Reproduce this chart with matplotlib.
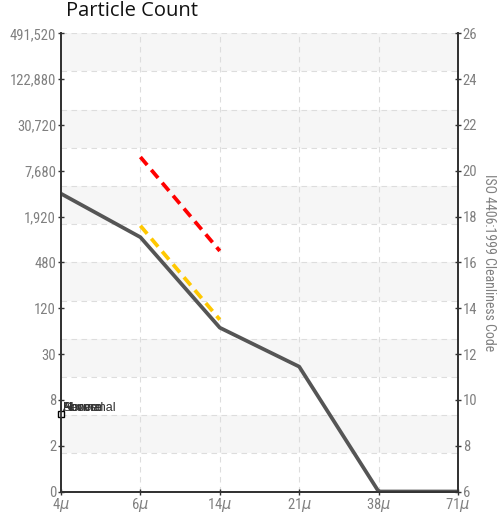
import numpy as np
import matplotlib
matplotlib.use('Agg')
import matplotlib.pyplot as plt

# particle sizes (x categories)
sizes = ['4', '6', '14', '21', '38', '71']
# measured ISO codes per size
iso_codes = [19.0, 17.1, 13.15, 11.45, 6.0, 6.0]
# limit lines between 6u and 14u
severe_limit = [20.6, 16.5]
alarm_limit = [17.6, 13.5]
limit_sizes = ['6', '14']
# left axis labels (particles per ml) for ISO codes 6..26
count_labels = ['0', '2', '8', '30', '120', '480', '1,920', '7,680', '30,720', '122,880', '491,520']
iso_ticks = [6, 8, 10, 12, 14, 16, 18, 20, 22, 24, 26]
legend_names = ['Above', 'Severe', 'Normal', 'Abnormal']

narrow = 'Roboto Condensed'

fig = plt.figure(figsize=(4.99, 5.15), dpi=100)
ax = fig.add_axes([61/499, 1-491.5/515, (458-61)/499, (491.5-33.3)/515])

xpos = np.arange(len(sizes))
lookup = dict(zip(sizes, xpos))

ymin, ymax = 6, 26
ax.set_xlim(xpos[0], xpos[-1])
ax.set_ylim(ymin, ymax)

# alternating bands / horizontal grid (12 divisions)
edges = np.linspace(ymin, ymax, 13)
for i in range(12):
    if i % 2 == 1:
        ax.axhspan(edges[i], edges[i+1], color='#f6f6f6', zorder=0, lw=0)
for e in edges[1:]:
    ax.axhline(e, color='#dddddd', lw=0.8, ls=(0, (5, 4)), zorder=1)
for x in xpos[1:-1]:
    ax.axvline(x, color='#dddddd', lw=0.8, ls=(0, (5, 4)), zorder=1)

ax.plot(xpos, iso_codes, color='#555555', lw=2.7, zorder=4, solid_joinstyle='round')
lx = [lookup[s] for s in limit_sizes]
ax.plot(lx, severe_limit, color='#ff0000', lw=2.7, ls=(0, (2.8, 1.7)), zorder=3)
ax.plot(lx, alarm_limit, color='#ffc800', lw=2.7, ls=(0, (2.8, 1.7)), zorder=3)

# legend-ish labels stacked on top of each other
ax.plot([0], [9.37], marker='s', ms=4.5, mfc='white', mec='black', mew=1, clip_on=False, zorder=6)
for n in legend_names:
    ax.text(0.02, 9.5, n, fontsize=9, color='#333333', family='Liberation Sans',
            va='baseline', ha='left', zorder=6)

ax.set_yticks(iso_ticks)
ax.set_yticklabels(count_labels)
ax.set_xticks(xpos)
ax.set_xticklabels([s + r'$\mu$' for s in sizes])

ax2 = ax.twinx()
ax2.set_ylim(ymin, ymax)
ax2.set_yticks(iso_ticks)
ax2.set_yticklabels([str(t) for t in iso_ticks])

for a in (ax, ax2):
    a.spines['top'].set_visible(False)
    for s in ('left', 'right', 'bottom'):
        a.spines[s].set_color('#333333')
        a.spines[s].set_linewidth(1.3)
    a.tick_params(colors='#333333', labelcolor='#808080', labelsize=10.5, direction='inout', length=5, width=1)
    for lab in a.get_yticklabels() + a.get_xticklabels():
        lab.set_family(narrow)
ax.tick_params(axis='y', pad=1)
ax2.tick_params(axis='y', pad=1)
ax.tick_params(axis='x', pad=1)

ax.set_ylabel('Number of particles (per 1 ml)', color='#999999', fontsize=10, family=narrow)
ax.yaxis.set_label_coords(-0.152, 0.5)
ax2.set_ylabel('ISO 4406:1999 Cleanliness Code', color='#808080', fontsize=10, family=narrow,
               rotation=270, labelpad=13)

fig.text(66/499, 1-11/515, 'Particle Count', fontsize=14.5, family='Open Sans', va='center', ha='left', color='#111111')

fig.savefig('out.png', dpi=100)
